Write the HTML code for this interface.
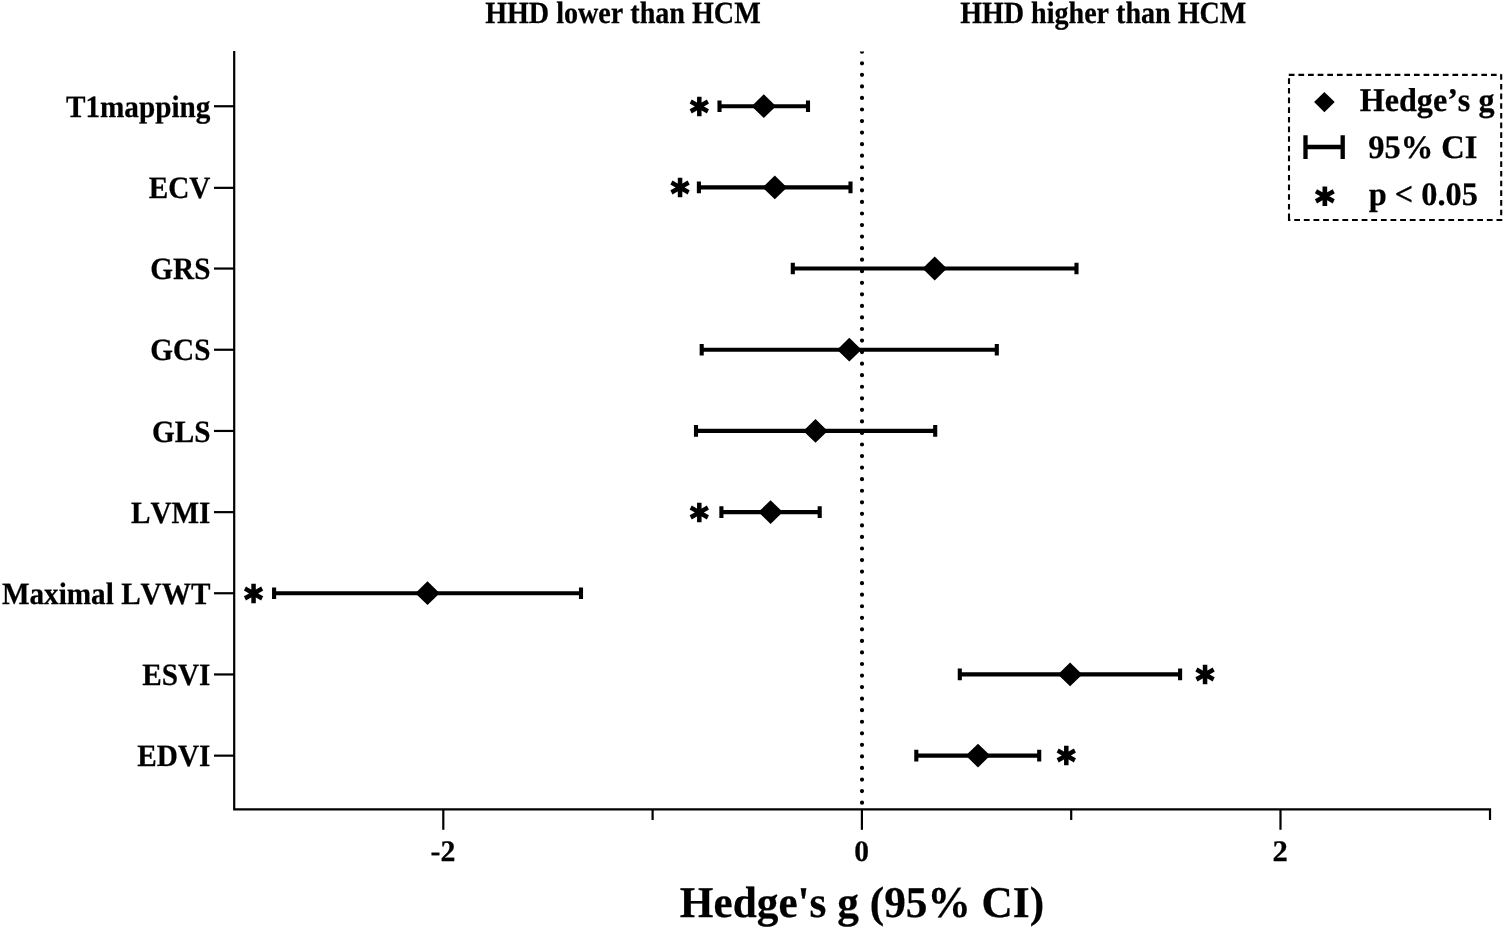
<!DOCTYPE html>
<html lang="en"><head><meta charset="utf-8"><title>Hedge's g forest plot</title>
<style>
html,body{margin:0;padding:0;background:#fff;}
body{width:1505px;height:929px;overflow:hidden;}
svg{display:block;}
text{font-family:"Liberation Serif","Times New Roman",serif;font-weight:bold;fill:#000;font-kerning:none;white-space:pre;text-rendering:geometricPrecision;stroke:#000;stroke-width:0.25px;stroke-linejoin:round;}
.ast{font-family:"DejaVu Sans",sans-serif;font-weight:bold;text-rendering:geometricPrecision;stroke:#000;stroke-linejoin:miter;font-size:36px;stroke-width:1.6px;}
.ax{stroke:#000;stroke-width:2.20px;fill:none;}
.eb{stroke:#000;stroke-width:4.1px;fill:none;}
</style></head><body>
<svg width="1505" height="929" viewBox="0 0 1505 929">
<rect width="1505" height="929" fill="#fff"/>
<!-- direction labels -->
<text transform="translate(485.14 22.75) scale(0.9097 1)" style="font-size:30.9px">HHD lower than HCM</text>
<text transform="translate(960.14 22.75) scale(0.9087 1)" style="font-size:30.9px">HHD higher than HCM</text>
<!-- zero reference line -->
<clipPath id="zc"><rect x="850" y="51.5" width="24" height="757"/></clipPath>
<line x1="862.0" y1="51.75" x2="862.0" y2="808" stroke="#000" stroke-width="4.2" stroke-linecap="round" stroke-dasharray="0 11.552" clip-path="url(#zc)"/>
<!-- axes -->
<path class="ax" d="M234.2 50.9 V809.4 H1491.10"/>
<line class="ax" x1="443.3" y1="809.4" x2="443.3" y2="829.8"/>
<line class="ax" x1="861.9" y1="809.4" x2="861.9" y2="829.8"/>
<line class="ax" x1="1280.5" y1="809.4" x2="1280.5" y2="829.8"/>
<line class="ax" x1="652.6" y1="809.4" x2="652.6" y2="820"/>
<line class="ax" x1="1071.2" y1="809.4" x2="1071.2" y2="820"/>
<line class="ax" x1="1490.0" y1="809.4" x2="1490.0" y2="820"/>
<text transform="translate(430.54 860.80) scale(0.9968 1)" style="font-size:29.9px">-2</text>
<text transform="translate(854.18 860.80) scale(0.9855 1)" style="font-size:29.9px">0</text>
<text transform="translate(1272.56 860.80) scale(1.0251 1)" style="font-size:29.9px">2</text>
<!-- rows -->
<line class="ax" x1="214" y1="106.25" x2="234.2" y2="106.25"/>
<text transform="translate(210.41 116.95) scale(0.9422 1)" style="font-size:31px;text-anchor:end">T1mapping</text>
<path class="eb" d="M719.5 106.2 H808.0 M719.5 100.4 V112.0 M808.0 100.4 V112.0"/>
<polygon points="751.6,106.2 763.8,94.3 776.0,106.2 763.8,118.1"/>
<text class="ast" transform="translate(690.11 126.13) scale(0.9871 1.0648)">*</text>
<line class="ax" x1="214" y1="187.85" x2="234.2" y2="187.85"/>
<text transform="translate(210.41 198.15) scale(0.9422 1)" style="font-size:31px;text-anchor:end">ECV</text>
<path class="eb" d="M698.9 187.4 H850.5 M698.9 181.6 V193.2 M850.5 181.6 V193.2"/>
<polygon points="762.6,187.4 774.8,175.5 787.0,187.4 774.8,199.3"/>
<text class="ast" transform="translate(670.71 207.03) scale(0.9871 1.0648)">*</text>
<line class="ax" x1="214" y1="268.55" x2="234.2" y2="268.55"/>
<text transform="translate(210.41 279.25) scale(0.9422 1)" style="font-size:31px;text-anchor:end">GRS</text>
<path class="eb" d="M792.8 268.5 H1076.5 M792.8 262.7 V274.3 M1076.5 262.7 V274.3"/>
<polygon points="922.5,268.5 934.7,256.6 946.9,268.5 934.7,280.4"/>
<line class="ax" x1="214" y1="349.75" x2="234.2" y2="349.75"/>
<text transform="translate(210.41 360.45) scale(0.9422 1)" style="font-size:31px;text-anchor:end">GCS</text>
<path class="eb" d="M701.7 349.7 H996.8 M701.7 343.9 V355.5 M996.8 343.9 V355.5"/>
<polygon points="837.1,349.7 849.3,337.8 861.5,349.7 849.3,361.6"/>
<line class="ax" x1="214" y1="430.95" x2="234.2" y2="430.95"/>
<text transform="translate(210.41 441.65) scale(0.9422 1)" style="font-size:31px;text-anchor:end">GLS</text>
<path class="eb" d="M696.0 430.9 H935.2 M696.0 425.1 V436.7 M935.2 425.1 V436.7"/>
<polygon points="803.3,430.9 815.5,419.0 827.7,430.9 815.5,442.8"/>
<line class="ax" x1="214" y1="512.15" x2="234.2" y2="512.15"/>
<text transform="translate(210.41 522.85) scale(0.9422 1)" style="font-size:31px;text-anchor:end">LVMI</text>
<path class="eb" d="M721.4 512.1 H819.7 M721.4 506.3 V517.9 M819.7 506.3 V517.9"/>
<polygon points="758.4,512.1 770.6,500.2 782.8,512.1 770.6,524.0"/>
<text class="ast" transform="translate(690.06 531.83) scale(0.9871 1.0648)">*</text>
<line class="ax" x1="214" y1="593.25" x2="234.2" y2="593.25"/>
<text transform="translate(210.41 603.95) scale(0.9422 1)" style="font-size:31px;text-anchor:end">Maximal LVWT</text>
<path class="eb" d="M274.1 593.2 H581.0 M274.1 587.4 V599.0 M581.0 587.4 V599.0"/>
<polygon points="415.3,593.2 427.5,581.3 439.7,593.2 427.5,605.1"/>
<text class="ast" transform="translate(244.16 612.93) scale(0.9871 1.0648)">*</text>
<line class="ax" x1="214" y1="674.45" x2="234.2" y2="674.45"/>
<text transform="translate(210.41 685.15) scale(0.9422 1)" style="font-size:31px;text-anchor:end">ESVI</text>
<path class="eb" d="M959.8 674.4 H1180.1 M959.8 668.6 V680.2 M1180.1 668.6 V680.2"/>
<polygon points="1057.9,674.4 1070.1,662.5 1082.3,674.4 1070.1,686.3"/>
<text class="ast" transform="translate(1195.71 694.13) scale(0.9871 1.0648)">*</text>
<line class="ax" x1="214" y1="755.65" x2="234.2" y2="755.65"/>
<text transform="translate(210.41 766.35) scale(0.9422 1)" style="font-size:31px;text-anchor:end">EDVI</text>
<path class="eb" d="M916.3 755.6 H1039.2 M916.3 749.8 V761.4 M1039.2 749.8 V761.4"/>
<polygon points="965.8,755.6 978.0,743.7 990.2,755.6 978.0,767.5"/>
<text class="ast" transform="translate(1057.01 775.48) scale(0.9871 1.0648)">*</text>
<!-- legend -->
<g stroke="#000" stroke-width="2.1" fill="none">
<line x1="1288.8" y1="74.9" x2="1501.2" y2="74.9" stroke-dasharray="5.7 3.926"/>
<line x1="1501.2" y1="74.2" x2="1501.2" y2="220" stroke-dasharray="5.6 4.08"/>
<line x1="1287.95" y1="220" x2="1502.25" y2="220" stroke-dasharray="5.8 3.832" stroke-dashoffset="3.38"/>
<line x1="1289" y1="78.3" x2="1289" y2="221.05" stroke-dasharray="5.6 4.06"/>
</g>
<polygon points="1314.1,102.1 1324.4,92 1334.7,102.1 1324.4,112.2"/>
<text transform="translate(1359.68 111.20) scale(0.9718 1)" style="font-size:33.1px">Hedge’s g</text>
<path d="M1305.5 147 H1342.7 M1305.5 135.3 V158.9 M1342.7 135.3 V158.9" stroke="#000" stroke-width="4.3" fill="none"/>
<text transform="translate(1368.17 158.20) scale(0.9871 1)" style="font-size:32.9px">95% CI</text>
<text class="ast" transform="translate(1315.22 215.83) scale(1.0180 1.0758)">*</text>
<text transform="translate(1368.81 204.80) scale(0.9829 1)" style="font-size:32.9px">p &lt; 0.05</text>
<!-- axis title -->
<text transform="translate(679.79 917.45) scale(0.9862 1)" style="font-size:43.9px">Hedge's g (95% CI)</text>
</svg>
</body></html>
